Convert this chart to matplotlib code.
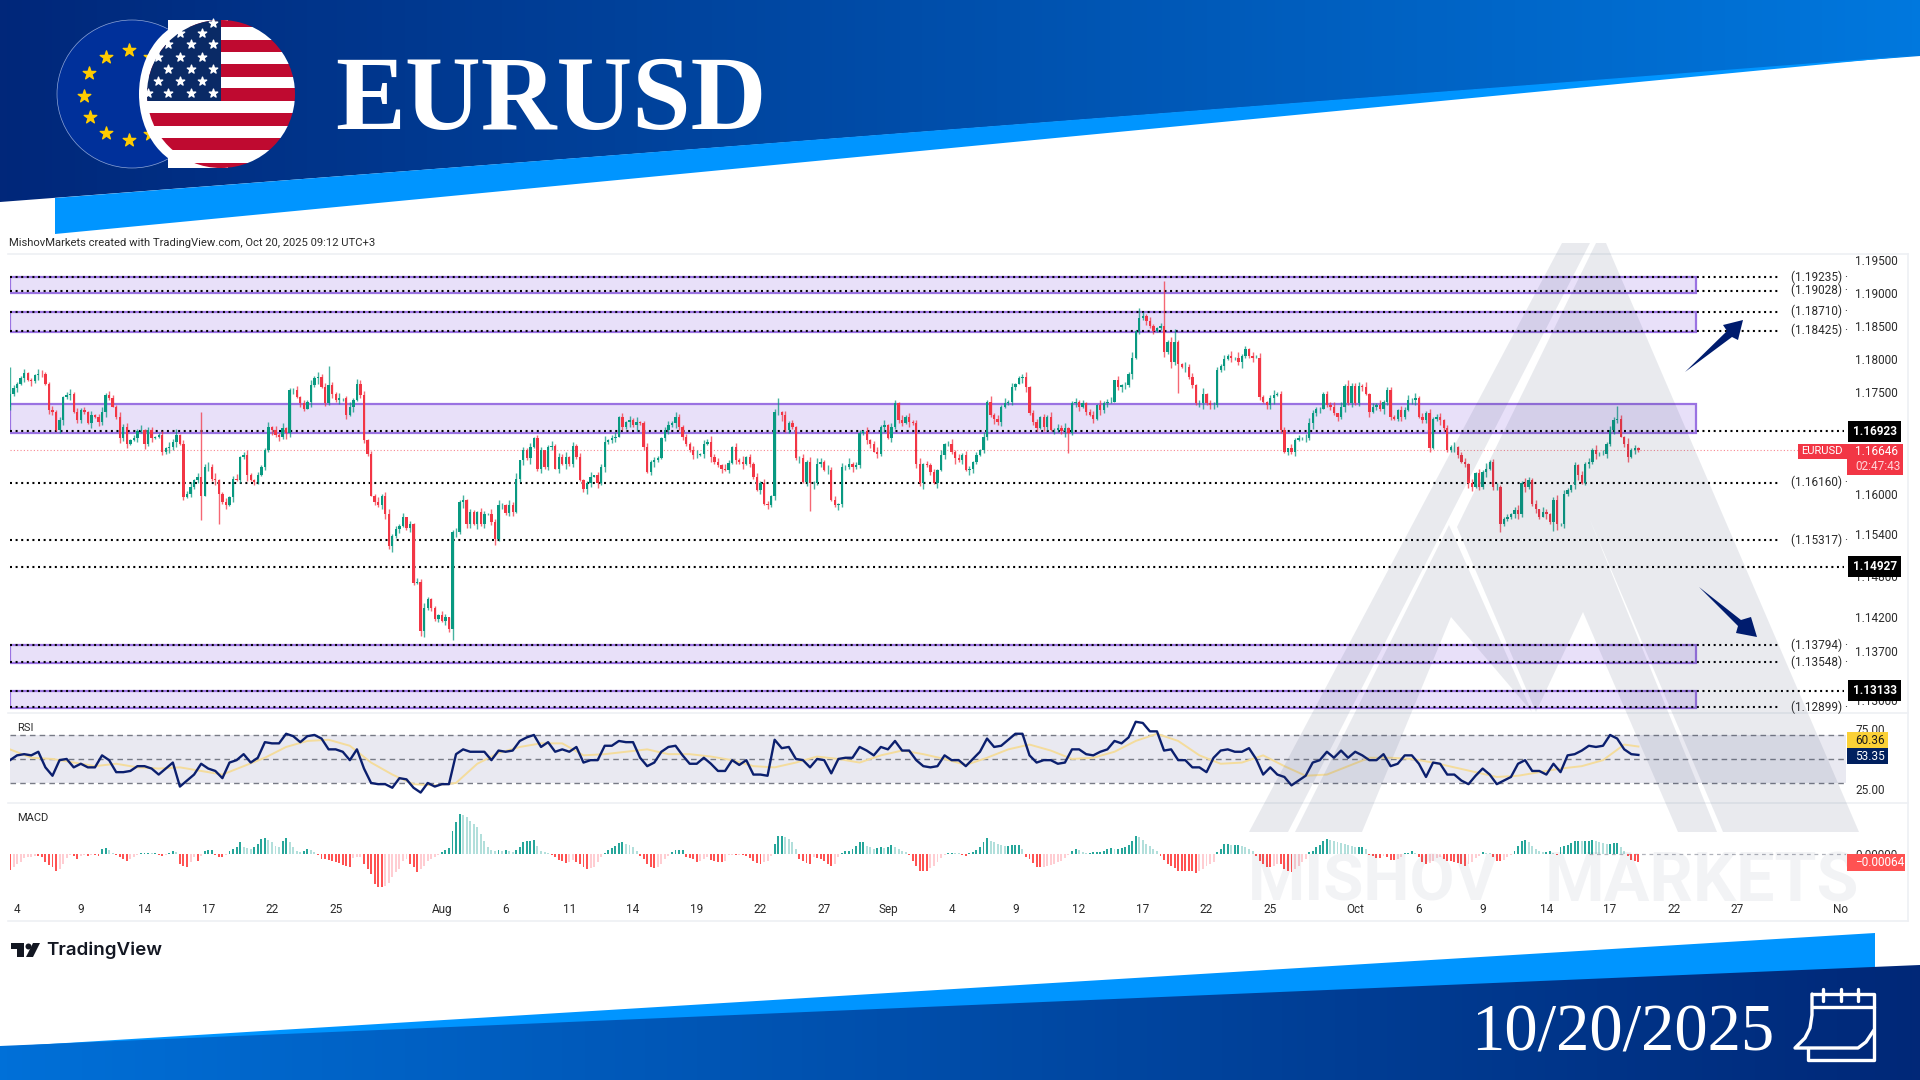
import numpy as np
import matplotlib
matplotlib.use("Agg")
import matplotlib.pyplot as plt
from matplotlib.patches import Polygon, Ellipse, Rectangle
from matplotlib.transforms import blended_transform_factory

plt.rcParams['font.family'] = ['Roboto', 'DejaVu Sans']

# closes in pips above 1.1000, one per 4h bar
closes = [748,756,763,771,779,768,767,776,778,777,763,724,721,694,709,743,746,748,721,709,
724,721,704,716,714,706,721,746,741,729,714,682,699,674,679,682,692,694,674,694,
682,684,687,662,667,669,677,687,674,595,600,610,620,625,597,640,640,622,620,600,
588,583,595,622,620,654,657,627,620,617,627,640,664,699,694,687,684,697,689,753,
753,743,734,726,736,761,771,773,758,734,761,748,739,741,741,716,729,739,763,746,
679,659,597,588,583,597,570,523,538,548,553,565,550,555,469,471,399,432,446,432,
417,422,414,419,402,543,543,587,590,555,573,555,573,555,570,570,558,533,583,583,
571,583,573,622,649,664,652,669,682,637,664,640,669,671,637,654,644,654,644,671,
654,620,607,615,625,627,615,640,677,679,682,684,714,699,706,709,701,706,
704,669,632,647,649,652,682,694,701,705,713,699,684,674,664,657,657,659,674,677,
654,647,642,637,635,645,669,649,647,644,654,644,625,605,615,585,583,597,721,721,
716,694,704,699,652,652,617,647,615,615,644,647,635,635,590,583,585,640,640,644,
640,642,689,692,679,674,662,659,699,701,682,699,734,709,704,714,706,704,644,615,
644,642,632,615,635,657,674,674,662,652,649,657,635,637,647,657,664,684,736,716,
711,706,729,734,736,758,763,771,773,758,719,706,697,714,699,714,694,694,697,692,
697,689,734,736,729,734,721,716,711,731,724,734,736,736,768,758,761,761,778,802,
842,861,865,857,850,842,847,850,810,825,795,825,793,788,788,773,761,734,734,748,
734,731,731,783,790,800,805,802,802,795,805,815,805,802,802,743,736,731,741,746,748,
694,662,667,662,679,682,682,682,704,719,726,726,748,731,729,719,714,729,760,734,
760,734,760,758,748,721,729,731,726,736,753,714,711,724,714,724,739,739,741,714,
709,719,667,711,714,709,697,664,669,669,657,647,644,615,610,630,610,632,637,647,
610,610,555,563,565,570,576,570,615,610,620,585,577,566,573,570,558,590,555,555,
600,605,612,642,627,615,644,647,664,659,659,659,674,694,709,710,684,674,654,664,667,664]

wick_up = ("3524613275" "4263514726" "3517248365" "2746153824" "5136274815"
           "4725136482" "3614725831" "5247163824" "4615283746" "2538146275"
           "6142735824" "3715264831" "4265137482" "5316427583" "2748153624"
           "5137264815" "3624715382" "4715263824" "6253147285" "3426715384"
           "5174263815" "2637415826" "4513627485" "3746152834" "5261473825"
           "4172635814" "3528146273" "6415273845" "2736145825" "5142736481"
           "3625147283" "4716253824" "5263147385" "3174625814" "4536271825"
           "2647315824" "5173426853" "3245716284" "4627153825" "5316472835"
           "3724615382" "4516273824" "6235147384" "3617425825" "4152736482"
           "5364271835" "2417")
wick_down = ("4362517384" "2651473825" "5317264831" "3746215384" "6125374825"
             "2534716483" "4617253824" "3152746385" "5264173824" "2736451825"
             "4315267483" "6247315824" "3526417385" "5173624825" "2461573824"
             "6354172835" "3247516284" "4615372825" "2573146385" "5326417284"
             "3715264825" "4162537483" "5437162825" "2613745384" "4256173825"
             "3541726483" "5172634825" "2763145384" "6234517825" "4175263483"
             "3562417285" "5214763825" "2645137384" "4173526825" "5326174483"
             "3714265825" "2547136384" "6135274825" "3462715384" "5237416825"
             "4613752384" "2576143825" "5134267483" "3641725825" "4257136384"
             "2736415825" "3514")
# wicks that stand out, price at the tip
high_spikes = {0: 1.1788, 54: 1.1721, 90: 1.1789, 217: 1.1741, 319: 1.1877, 326: 1.1917,
               329: 1.1845, 377: 1.1762, 454: 1.1730}
low_spikes = {54: 1.1561, 59: 1.1555, 125: 1.1387, 116: 1.1392, 299: 1.1660, 330: 1.1749,
              421: 1.1543, 436: 1.1545, 226: 1.1575}

# RSI, every second bar
rsi = [49,53,54,53,56,43,36,49,50,43,46,43,43,53,49,39,39,40,44,44,42,37,42,47,27,32,37,46,42,40,
34,47,49,54,47,51,64,63,63,71,69,64,69,70,67,58,58,56,49,58,42,30,29,29,26,34,33,26,22,30,
27,29,29,54,58,56,56,56,49,57,56,57,65,68,70,60,64,56,58,56,60,47,49,49,61,61,65,64,64,
51,44,47,56,60,61,53,46,46,51,46,40,40,49,45,49,37,37,36,66,59,60,50,49,43,50,49,38,50,51,51,
60,57,53,60,58,65,57,57,49,44,43,44,53,49,49,44,50,56,67,60,61,66,71,71,53,47,49,49,46,47,
58,58,54,53,56,58,65,63,68,81,80,73,73,57,58,49,49,43,43,39,51,57,58,56,56,59,50,37,43,37,
35,28,32,36,47,49,56,51,57,51,56,53,49,49,54,44,46,53,53,46,35,47,46,37,37,32,29,36,42,37,
29,32,35,46,49,40,40,37,46,39,53,54,57,61,60,61,70,67,58,54,53.35]
rsi_ma = [58,51,50,47,44,46,43,42,43,40,37,44,51,60,65,66,61,47,37,29,28,30,46,55,60,63,63,53,54,56,
58,54,54,52,49,44,43,47,52,50,47,53,57,54,50,45,51,58,62,57,50,51,56,65,71,65,53,46,47,53,
44,36,37,44,51,51,50,47,43,39,35,36,39,42,44,49,62,60.36]
rsi_ma_bars = list(range(0, 458, 6)) + [460]

# MACD histogram in units of 2.77e-5
macd = [-48,-38,-30,-25,-12,-10,-8,-5,-5,-10,-25,-32,-40,-50,-45,-30,-12,-3,-5,-15,-5,-3,-6,-3,-3,-6,15,18,12,3,
-3,-8,-15,-22,-15,-8,-3,2,2,4,2,2,-3,-5,-3,3,8,7,-30,-35,-38,-25,-10,-22,-5,10,12,12,-3,-8,
-8,-4,8,15,22,35,22,18,15,20,30,45,48,42,35,25,20,40,48,35,22,10,5,10,15,12,5,-2,-15,
-15,-18,-20,-25,-28,-32,-35,-38,-12,-10,-8,-30,-45,-60,-90,-98,-98,-95,-88,-70,-55,-45,-20,-15,-30,-40,-55,-45,-35,-20,-15,-10,-3,
5,12,18,70,95,120,118,110,100,90,80,60,40,20,12,8,12,10,12,10,5,12,22,35,40,40,42,25,8,5,2,-3,
-10,-18,-22,-28,-25,-18,-25,-30,-40,-45,-42,-38,-25,-10,3,12,18,25,32,35,30,28,20,10,
-5,-15,-30,-38,-42,-40,-30,-15,-5,5,12,12,12,-8,-12,-15,-25,-22,-15,-8,-18,-22,-25,-25,-22,-3,-2,-3,-2,-3,
-5,-12,-20,-28,-30,-25,-20,-5,30,55,55,52,45,35,15,-15,-22,-28,-30,-10,-12,-15,-22,-30,-35,-30,-10,3,8,10,
15,25,35,35,25,20,15,18,20,18,20,28,22,15,8,5,-2,-20,-35,-50,-50,-50,-42,-35,-25,-12,-3,3,4,3,
2,-3,-5,2,5,12,20,35,48,40,35,30,28,25,25,28,28,28,15,-8,-15,-28,-40,-40,-38,-35,-32,-30,-25,-22,
-12,-2,10,15,12,5,3,4,5,5,5,8,14,18,15,16,18,22,28,40,55,50,42,30,25,15,8,-5,-18,-30,
-35,-42,-50,-50,-50,-50,-52,-58,-50,-45,-35,-30,-25,5,15,30,30,28,28,28,25,22,15,8,-5,-20,-30,-38,-38,-35,-30,
-30,-45,-52,-55,-45,-35,-25,-15,5,10,20,28,38,45,42,38,35,33,30,28,25,20,20,20,14,-3,-5,-12,-12,-5,
-8,-18,-18,-15,-8,2,3,8,2,-8,-25,-30,-28,-20,-12,-10,-15,-20,-22,-25,-28,-30,-35,-30,-25,-12,-5,5,4,3,
-8,-20,-20,-18,-10,-3,10,25,38,42,35,25,15,8,5,5,8,2,-2,20,25,28,32,38,40,38,38,40,43,40,
35,32,30,30,33,33,20,8,-5,-18,-22,-23]

zones = [(1.19235, 1.1900), (1.1871, 1.1841), (1.1733, 1.1690), (1.1379, 1.1353), (1.1313, 1.1288)]
bracket_levels = [1.19235, 1.19028, 1.18710, 1.18425, 1.16160, 1.15317, 1.13794, 1.13548, 1.12899]
tagged_levels = [1.16923, 1.14927, 1.13133]
last_price = 1.16646
price_ticks = [1.195, 1.19, 1.185, 1.18, 1.175, 1.17, 1.16, 1.154, 1.148, 1.142, 1.137, 1.13]

date_labels = ['4', '9', '14', '17', '22', '25', 'Aug', '6', '11', '14', '19', '22', '27', 'Sep',
               '4', '9', '12', '17', '22', '25', 'Oct', '6', '9', '14', '17', '22', '27', 'No']
date_bars = [2, 20, 38, 56, 74, 92, 122, 140, 158, 176, 194, 212, 230, 248,
             266, 284, 302, 320, 338, 356, 380, 398, 416, 434, 452, 470, 488, 517]

GREEN = '#089981'
RED = '#f23645'
NAVY = '#0b1f6e'
TXT = '#2b2b2b'
DOTS = (0, (0.96, 1.73))


def digits(s, n):
    vals = [int(c) for c in s][:n]
    return np.array(vals + [3] * (n - len(vals)))


def px_axes(top, bottom, left=10, right=1846):
    return fig.add_axes([left / 1920, 1 - bottom / 1080, (right - left) / 1920, (bottom - top) / 1080])


def gradient(ax, pts, c0, c1):
    c0 = np.array(matplotlib.colors.to_rgb(c0))
    c1 = np.array(matplotlib.colors.to_rgb(c1))
    t = np.linspace(0, 1, 256)[:, None]
    img = (c0 * (1 - t) + c1 * t)[None, :, :]
    xs = [p[0] for p in pts]
    ys = [p[1] for p in pts]
    im = ax.imshow(img, extent=(min(xs), max(xs), max(ys), min(ys)), aspect='auto', zorder=1)
    patch = Polygon(pts, closed=True, transform=ax.transData, fc='none', ec='none')
    ax.add_patch(patch)
    im.set_clip_path(patch)


fig = plt.figure(figsize=(19.2, 10.8), dpi=100, facecolor='white')

# background decoration, in pixels
bg = fig.add_axes([0, 0, 1, 1], zorder=0)
gradient(bg, [(0, 0), (1920, 0), (1920, 56), (0, 202)], '#01277a', '#0078de')
bg.add_patch(Polygon([(55, 198), (1920, 55), (55, 234)], fc='#0095ff', ec='none', zorder=2))
bg.add_patch(Polygon([(0, 1047), (1875, 933), (1875, 975), (0, 1060)], fc='#0095ff', ec='none', zorder=2))
gradient(bg, [(0, 1046), (1920, 965), (1920, 1080), (0, 1080)], '#0070d8', '#012878')
bg.images[-1].set_zorder(3)
bg.set_xlim(0, 1920)
bg.set_ylim(1080, 0)
bg.axis('off')

# flags
bg.add_patch(Ellipse((132, 94), 150, 148, fc='#00309a', ec='#8fa6d8', lw=0.5, zorder=4))
bg.scatter([129, 106, 89, 84, 90, 106, 129, 150, 150], [50, 57, 73, 96, 117, 133, 140, 57, 134],
           marker='*', s=90, c='#ffcc00', zorder=5)
bg.add_patch(Ellipse((197, 94), 116, 148, fc='white', ec='none', zorder=6))
bg.add_patch(Rectangle((168, 20), 60, 148, fc='white', ec='none', zorder=6))
clip = Ellipse((221, 94), 148, 148, transform=bg.transData, fc='none', ec='none')
bg.add_patch(clip)
for y0, y1 in [(20, 27), (39.5, 51.5), (64, 77), (88, 101), (113, 126), (138, 150), (163, 168)]:
    bg.add_patch(Rectangle((140, y0), 170, y1 - y0, fc='#bf0a30', ec='none', zorder=7, clip_path=clip))
for y0, y1 in [(27, 39.5), (51.5, 64), (77, 88), (101, 113), (126, 138), (150, 163)]:
    bg.add_patch(Rectangle((140, y0), 170, y1 - y0, fc='white', ec='none', zorder=7, clip_path=clip))
bg.add_patch(Rectangle((140, 20), 81, 81, fc='#0a2a66', ec='none', zorder=8, clip_path=clip))
star_x = [180, 202, 168, 191, 213, 158, 180, 202, 168, 191, 213, 158, 180, 202, 148, 168, 191, 213, 213]
star_y = [33, 33, 44, 44, 44, 57, 57, 57, 69, 69, 69, 81, 81, 81, 93, 93, 93, 93, 23]
bg.scatter(star_x, star_y, marker='*', s=40, c='white', zorder=9)

bg.text(335, 104, 'EURUSD', family='Liberation Serif', weight='bold', fontsize=75.5, color='white',
        va='center', ha='left', zorder=5)
bg.text(1471, 1034, '10/20/2025', family='Liberation Serif', fontsize=48, color='white',
        va='center', ha='left', zorder=5)

# calendar icon
cal = dict(color='white', lw=2.4, zorder=5, solid_capstyle='round')
bg.plot([1812, 1874, 1874, 1808, 1808], [994, 994, 1060, 1060, 1048], **cal)
bg.plot([1812, 1812, 1810, 1805, 1795, 1858, 1866, 1874], [994, 1015, 1028, 1038, 1048, 1048, 1042, 1030], **cal)
bg.plot([1812, 1874], [1007, 1007], **cal)
for rx in [1823, 1841, 1858]:
    bg.plot([rx, rx], [989, 1001], **cal)

# pane borders
for yl in [254, 713, 803, 921]:
    bg.plot([8, 1908], [yl, yl], color='#eef0f4', lw=1.2, zorder=2)
bg.plot([1908, 1908], [254, 921], color='#eef0f4', lw=1.2, zorder=2)

bg.text(9, 243, 'MishovMarkets created with TradingView.com, Oct 20, 2025 09:12 UTC+3',
        fontsize=8.15, color=TXT, va='center', ha='left', zorder=5)
bg.text(46, 950, 'TradingView', family='Inter', weight='semibold', fontsize=13.5, color='#131722',
        va='center', ha='left', zorder=5)
bg.add_patch(Polygon([(11, 943), (24, 943), (24, 957), (17, 957), (17, 949), (11, 949)], fc='#131722', ec='none', zorder=5))
bg.add_patch(Ellipse((28.5, 946.5), 6, 6, fc='#131722', ec='none', zorder=5))
bg.add_patch(Polygon([(33, 943), (40, 943), (33, 957), (26, 957)], fc='#131722', ec='none', zorder=5))

n = len(closes)
bars = np.arange(n)
close_p = 1.1 + np.array(closes) / 10000
open_p = np.r_[close_p[0] - 0.0020, close_p[:-1]]
body_top = np.maximum(open_p, close_p)
body_bot = np.minimum(open_p, close_p)
high_p = body_top + digits(wick_up, n) / 10000
low_p = body_bot - digits(wick_down, n) / 10000
for b, v in high_spikes.items():
    high_p[b] = v
for b, v in low_spikes.items():
    low_p[b] = v
cols = np.where(close_p >= open_p, GREEN, RED)

xlim = (0, (1846 - 10) / 3.54)


def p_at(y):
    return 1.19235 * np.exp(-(y - 277) / 7875)


# price pane
ax = px_axes(254, 710)
ax.patch.set_alpha(0)
ax.set_yscale('log')
ax.set_xlim(*xlim)
ax.set_ylim(p_at(710), p_at(254))
for top, bot in zones:
    ax.add_patch(Rectangle((0, bot), 476.3, top - bot, fc='#e8e0f9', ec='#9a72e2', lw=1.6, zorder=1))
ax.hlines(bracket_levels, 0, 500, color='black', lw=1.5, linestyle=DOTS, zorder=2)
ax.hlines(tagged_levels, 0, 518, color='black', lw=1.5, linestyle=DOTS, zorder=2)
ax.hlines(last_price, 0, 506, color=RED, lw=0.8, alpha=0.6, linestyle=(0, (1, 2)), zorder=2)
ax.vlines(bars, low_p, high_p, colors=cols, lw=1.0, alpha=0.75, zorder=3)
ax.bar(bars, body_top - body_bot, bottom=body_bot, width=0.66, color=cols, lw=0, zorder=4)
for lv in bracket_levels:
    ax.text(503, lv, f'({lv:.5f}) ·', fontsize=8.5, color=TXT, va='center', ha='left')
ax.yaxis.tick_right()
ax.minorticks_off()
ax.set_yticks(price_ticks)
ax.set_yticklabels([f'{t:.5f}' for t in price_ticks])
ax.tick_params(axis='y', length=0, pad=6.5, labelsize=8.5, labelcolor=TXT)
ax.minorticks_off()
ax.set_xticks([])
for s in ax.spines.values():
    s.set_visible(False)
tag_tr = blended_transform_factory(ax.transAxes, ax.transData)
for lv in tagged_levels:
    ax.text(1.0036, lv, f'{lv:.5f}', transform=tag_tr, fontsize=8.5, color='white', weight='bold', va='center',
            ha='left', zorder=10, bbox=dict(boxstyle='square,pad=0.35', fc='black', ec='none'), clip_on=False)

# RSI pane
ar = px_axes(716, 803)
ar.patch.set_alpha(0)
ar.set_xlim(*xlim)
ar.set_ylim(13.3, 85.8)
ar.axhspan(30, 70, color='#2a2e78', alpha=0.10, lw=0, zorder=1)
ar.hlines([70, 50, 30], 0, xlim[1], color='#787b86', lw=1, linestyle=(0, (4, 3)), zorder=2)
ar.plot(rsi_ma_bars, rsi_ma, color='#f4dc9c', lw=1.4, zorder=3)
ar.plot(np.arange(len(rsi)) * 2, rsi, color=NAVY, lw=1.7, zorder=4)
ar.yaxis.tick_right()
ar.set_yticks([75, 25])
ar.set_yticklabels(['75.00', '25.00'])
ar.tick_params(axis='y', length=0, pad=6.5, labelsize=8.5, labelcolor=TXT)
ar.set_xticks([])
for s in ar.spines.values():
    s.set_visible(False)
ar.text(0.004, 0.86, 'RSI', transform=ar.transAxes, fontsize=8, color=TXT, va='center')

# MACD pane
am = px_axes(806, 895)
am.patch.set_alpha(0)
am.set_xlim(*xlim)
hist = np.array(macd) * 2.77e-5
am.set_ylim(-41 * 8.31e-5, 48 * 8.31e-5)
prev = np.r_[0, hist[:-1]]
mc = []
for v, p in zip(hist, prev):
    if v >= 0:
        mc.append('#26a69a' if v >= p else '#b2dfdb')
    else:
        mc.append('#ff5252' if v <= p else '#ffcdd2')
am.bar(np.arange(len(hist)), hist, width=0.55, color=mc, lw=0, zorder=3)
am.axhline(0, color='#b0b3bb', lw=0.9, linestyle=(0, (3, 3)), zorder=1, xmin=0.86)
am.yaxis.tick_right()
am.set_yticks([0])
am.set_yticklabels(['0.00000'])
am.tick_params(axis='y', length=0, pad=6.5, labelsize=8.5, labelcolor=TXT)
am.set_xticks(date_bars)
am.set_xticklabels(date_labels)
am.tick_params(axis='x', length=0, pad=6, labelsize=8.5, labelcolor=TXT)
for s in am.spines.values():
    s.set_visible(False)
am.text(0.004, 0.87, 'MACD', transform=am.transAxes, fontsize=8, color=TXT, va='center')

# watermark and value tags, in pixels, above the chart
top = fig.add_axes([0, 0, 1, 1], zorder=5)
top.patch.set_alpha(0)
top.set_xlim(0, 1920)
top.set_ylim(1080, 0)
top.axis('off')
wm = dict(fc='#2a3a60', ec='none', alpha=0.10, zorder=1)
top.add_patch(Polygon([(1562, 243), (1590, 243), (1288, 832), (1249, 832)], **wm))
top.add_patch(Polygon([(1449, 525), (1532, 712), (1451, 617), (1362, 832), (1295, 832)], **wm))
top.add_patch(Polygon([(1596, 243), (1606, 243), (1859, 832), (1723, 832), (1590, 520), (1717, 832),
                       (1678, 832), (1583, 612), (1536, 712), (1457, 527)], **wm))
top.text(1373, 883, 'MISHOV', fontsize=47, weight='bold', color='#2a3a60', alpha=0.06, ha='center', va='center')
top.text(1702, 883, 'MARKETS', fontsize=49, weight='bold', color='#2a3a60', alpha=0.06, ha='center', va='center')

top.add_patch(Polygon([(1685, 372), (1727, 331), (1723, 325), (1743, 320), (1738, 340), (1732, 337)], fc='#001c6e', ec='none', zorder=3))
top.add_patch(Polygon([(1699, 587), (1741, 620), (1751, 617), (1757, 637), (1736, 633), (1738, 626)], fc='#001c6e', ec='none', zorder=3))

top.add_patch(Rectangle((1798, 444), 49, 15, fc=RED, ec='none', zorder=4))
top.add_patch(Rectangle((1847, 444), 56, 31, fc=RED, ec='none', zorder=4))
top.text(1822, 451.5, 'EURUSD', fontsize=8, color='white', ha='center', va='center', zorder=5)
top.text(1855, 451.5, f'{last_price:.5f}', fontsize=8.5, color='white', ha='left', va='center', zorder=5)
top.text(1855, 467, '02:47:43', fontsize=8.5, color='#ffd5d9', ha='left', va='center', zorder=5)
top.add_patch(Rectangle((1847, 732), 41, 16, fc='#fbd136', ec='none', zorder=4))
top.text(1855, 740, f'{rsi_ma[-1]:.2f}', fontsize=8.5, color='#1a1a1a', ha='left', va='center', zorder=5)
top.add_patch(Rectangle((1847, 748), 41, 16, fc='#00205f', ec='none', zorder=4))
top.text(1855, 756, f'{rsi[-1]:.2f}', fontsize=8.5, color='white', ha='left', va='center', zorder=5)
top.add_patch(Rectangle((1847, 854), 58, 17, fc='#ff5252', ec='none', zorder=4))
top.text(1855, 862.5, '−0.00064', fontsize=8.5, color='white', ha='left', va='center', zorder=5)

fig.savefig('out.png', dpi=100)
